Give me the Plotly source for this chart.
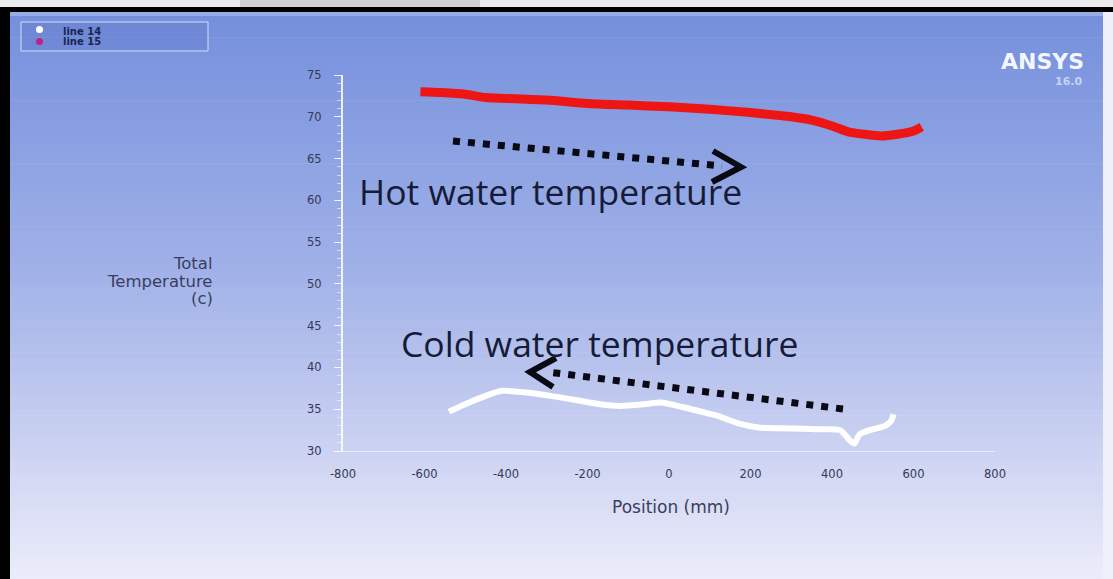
import plotly.graph_objects as go

# Temperature profiles along the heat exchanger (position in mm, temperature in C)
hot_pos = [-610, -560, -500, -450, -400, -300, -200, -100, 0, 100, 200, 300, 350, 400, 440, 480, 520, 560, 600, 620]
hot_temp = [73.0, 72.9, 72.7, 72.3, 72.2, 72.0, 71.6, 71.4, 71.2, 70.9, 70.5, 70.0, 69.6, 68.9, 68.2, 67.9, 67.7, 67.9, 68.3, 68.8]

cold_pos = [-540, -500, -450, -410, -350, -290, -230, -170, -120, -60, -20, 30, 80, 120, 170, 220, 300, 360, 420, 445, 455, 468, 500, 530, 545, 551]
cold_temp = [34.7, 35.6, 36.6, 37.2, 37.0, 36.6, 36.1, 35.6, 35.4, 35.6, 35.8, 35.3, 34.7, 34.2, 33.3, 32.8, 32.7, 32.6, 32.5, 31.2, 30.9, 32.0, 32.6, 33.0, 33.6, 34.4]

x_ticks = [-800, -600, -400, -200, 0, 200, 400, 600, 800]
y_ticks = [30, 35, 40, 45, 50, 55, 60, 65, 70, 75]

legend_names = ["line 14", "line 15"]

W, H = 1113, 579
L, R, T, B = 343, 118, 75, 128
PW, PH = W - L - R, H - T - B


def px(x):
    return (x - L) / PW


def py(y):
    return (H - B - y) / PH


def rect(x0, y0, x1, y1, fill, line=None, width=0, layer="below"):
    return dict(type="rect", xref="paper", yref="paper",
                x0=px(x0), x1=px(x1), y0=py(y0), y1=py(y1),
                fillcolor=fill, line=dict(color=line or fill, width=width), layer=layer)


def lerp(c0, c1, t):
    return tuple(round(a + (b - a) * t) for a, b in zip(c0, c1))


shapes = []

# vertical background gradient of the chart panel
stops = [(0.0, (116, 143, 220)), (0.45, (160, 177, 232)), (0.78, (205, 211, 242)), (1.0, (236, 237, 250))]
top, bottom = 12, H
N = 90
step = (bottom - top) / N
for i in range(N):
    t = (i + 0.5) / N
    for (t0, c0), (t1, c1) in zip(stops[:-1], stops[1:]):
        if t0 <= t <= t1:
            c = lerp(c0, c1, (t - t0) / (t1 - t0))
            break
    col = "rgb(%d,%d,%d)" % c
    shapes.append(rect(10, top + i * step, 1103, top + (i + 1) * step + 0.6, col))

# frame around the panel
shapes.append(rect(0, 0, W, 7, "#ececee"))
shapes.append(rect(240, 0, 480, 7, "#d2d2d5"))
shapes.append(rect(0, 7, W, 12, "#000000"))
shapes.append(rect(0, 7, 10, H, "#000000"))
shapes.append(rect(1103, 12, W, H, "#eef0fa"))
shapes.append(rect(10, 12, 1103, 16, "rgba(255,255,255,0.25)"))

# legend box
shapes.append(rect(21, 22, 208, 51, "rgba(80,105,190,0.22)", "rgba(235,240,255,0.8)", 1))
shapes.append(dict(type="circle", xref="paper", yref="paper",
                   x0=px(36), x1=px(43), y0=py(26), y1=py(33),
                   fillcolor="#ffffff", line=dict(width=0), layer="above"))
shapes.append(dict(type="circle", xref="paper", yref="paper",
                   x0=px(36), x1=px(43), y0=py(38), y1=py(45),
                   fillcolor="#c0208a", line=dict(width=0), layer="above"))


def seg(x0, y0, x1, y1, width, dash="solid"):
    return dict(type="line", xref="paper", yref="paper",
                x0=px(x0), y0=py(y0), x1=px(x1), y1=py(y1),
                line=dict(color="#0a0a14", width=width, dash=dash), layer="above")


def chevron(pts, width):
    path = "M " + " L ".join("%f,%f" % (px(a), py(b)) for a, b in pts)
    return dict(type="path", xref="paper", yref="paper", path=path,
                line=dict(color="#0a0a14", width=width), layer="above")


# dotted arrows marking the flow directions
shapes.append(seg(453, 141, 722, 166, 7, "7px,8px"))
shapes.append(chevron([(713, 151), (741, 167), (712, 182)], 6))
shapes.append(seg(843, 409, 548, 372, 7, "7px,8px"))
shapes.append(chevron([(556, 358), (530, 372), (553, 387)], 6))

fig = go.Figure()
fig.add_trace(go.Scatter(x=hot_pos, y=hot_temp, mode="lines", name=legend_names[1],
                         line=dict(color="#ee1515", width=9, shape="spline", smoothing=0.6)))
fig.add_trace(go.Scatter(x=cold_pos, y=cold_temp, mode="lines", name=legend_names[0],
                         line=dict(color="#ffffff", width=6, shape="spline", smoothing=0.6)))

tick_font = dict(family="DejaVu Sans", size=11.5, color="#353958")
label_font_col = "#3a3e5e"

annotations = [
    dict(text="Total", x=px(215), y=py(263)),
    dict(text="Temperature", x=px(215), y=py(281)),
    dict(text="(c)", x=px(215), y=py(298)),
]
for a in annotations:
    a.update(xref="paper", yref="paper", xanchor="right", yanchor="middle", showarrow=False,
             font=dict(family="DejaVu Sans", size=16.5, color=label_font_col))

annotations += [
    dict(text="Position (mm)", x=px(671), y=py(507), xanchor="center", yanchor="middle",
         font=dict(family="DejaVu Sans", size=17, color=label_font_col)),
    dict(text="<b>ANSYS</b>", x=px(1086), y=py(61), xanchor="right", yanchor="middle",
         font=dict(family="DejaVu Sans", size=22, color="#f4f6ff")),
    dict(text="<b>16.0</b>", x=px(1084), y=py(82), xanchor="right", yanchor="middle",
         font=dict(family="DejaVu Sans", size=11, color="#c9d3f6")),
    dict(text="Hot water temperature", x=px(357), y=py(191), xanchor="left", yanchor="middle",
         font=dict(family="Open Sans", size=35.5, color="#161b38")),
    dict(text="Cold water temperature", x=px(399), y=py(343), xanchor="left", yanchor="middle",
         font=dict(family="Open Sans", size=35.5, color="#161b38")),
    dict(text="<b>" + legend_names[0] + "</b>", x=px(61), y=py(31), xanchor="left", yanchor="middle",
         font=dict(family="DejaVu Sans", size=10, color="#1c2550")),
    dict(text="<b>" + legend_names[1] + "</b>", x=px(61), y=py(42), xanchor="left", yanchor="middle",
         font=dict(family="DejaVu Sans", size=10, color="#1c2550")),
]
for a in annotations[3:]:
    a.update(xref="paper", yref="paper", showarrow=False)

fig.update_layout(
    width=W, height=H, autosize=False,
    margin=dict(l=L, r=R, t=T, b=B, pad=0),
    paper_bgcolor="#ffffff", plot_bgcolor="rgba(0,0,0,0)",
    showlegend=False,
    shapes=shapes, annotations=annotations,
    xaxis=dict(range=[-800, 800], tickvals=x_ticks, ticktext=[str(v) for v in x_ticks],
               showgrid=False, zeroline=False, showline=True, linecolor="rgba(255,255,255,0.55)",
               linewidth=1, ticks="", tickfont=tick_font, ticklabelstandoff=12),
    yaxis=dict(range=[30, 75], tickvals=y_ticks, ticktext=[str(v) for v in y_ticks],
               showgrid=False, zeroline=False, showline=True, linecolor="rgba(255,255,255,0.85)",
               linewidth=2, ticks="outside", ticklen=7, tickcolor="rgba(255,255,255,0.8)",
               minor=dict(ticks="outside", ticklen=4, dtick=1, tickcolor="rgba(255,255,255,0.55)"),
               tickfont=tick_font, ticklabelstandoff=10),
)

fig.write_html("out.html")
